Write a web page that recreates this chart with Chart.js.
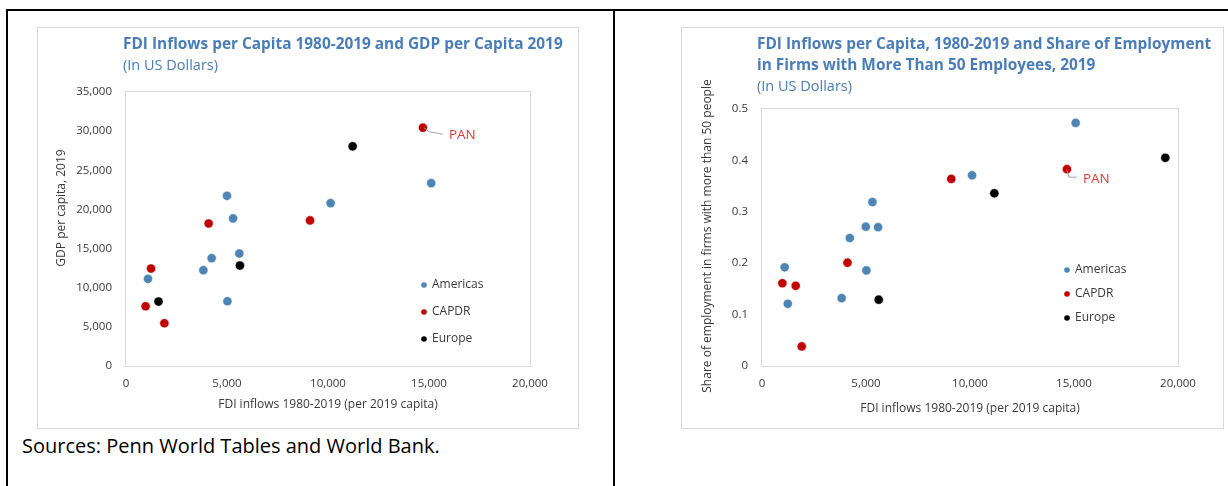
<!DOCTYPE html>
<html>
<head>
<meta charset="utf-8">
<script src="https://cdn.jsdelivr.net/npm/chart.js@4/dist/chart.umd.min.js"></script>
<style>
  html, body { margin: 0; padding: 0; background: #fff; }
  body { width: 1228px; height: 486px; position: relative; overflow: hidden; font-family: "Open Sans", sans-serif; }
  .rule { position: absolute; background: #000; }
  .box { position: absolute; border: 1px solid #d9d9d9; box-sizing: border-box; }
  canvas { position: absolute; }
  #sources { position: absolute; left: 22px; top: 434px; font-size: 20px; line-height: 24px; color: #000; white-space: nowrap; }
</style>
</head>
<body>
<div class="rule" style="left:6px;top:9px;width:1222px;height:2px"></div>
<div class="rule" style="left:6px;top:9px;width:2px;height:477px"></div>
<div class="rule" style="left:613px;top:9px;width:2px;height:477px"></div>
<div class="box" style="left:37px;top:27px;width:542px;height:402px"></div>
<div class="box" style="left:681px;top:27px;width:543px;height:402px"></div>
<canvas id="gdpChart" width="540" height="400" style="left:38px;top:28px"></canvas>
<canvas id="empChart" width="541" height="400" style="left:682px;top:28px"></canvas>
<div id="sources">Sources: Penn World Tables and World Bank.</div>

<script>
// ---- data ---------------------------------------------------------------
const GROUPS = ['Americas', 'CAPDR', 'Europe'];

const FDI_TICKS   = [0, 5000, 10000, 15000, 20000];
const GDP_TICKS   = [0, 5000, 10000, 15000, 20000, 25000, 30000, 35000];
const SHARE_TICKS = [0, 0.1, 0.2, 0.3, 0.4, 0.5];

// FDI inflows 1980-2019 per 2019 capita vs GDP per capita 2019
const americasFdiGdp = [1090, 3830, 4240, 5000, 5020, 5300, 5610, 10130, 15110];
const americasGdp    = [11130, 12240, 13770, 21740, 8270, 18850, 14370, 20800, 23360];
const capdrFdiGdp    = [970, 1240, 1900, 4090, 9110, 14700];
const capdrGdp       = [7630, 12450, 5460, 18200, 18590, 30440];
const europeFdiGdp   = [1610, 5640, 11220];
const europeGdp      = [8230, 12830, 28060];

// FDI inflows 1980-2019 per 2019 capita vs share of employment in firms > 50 people
const americasFdiEmp = [1090, 1240, 3830, 4220, 4990, 5020, 5310, 5580, 10100, 15080];
const americasShare  = [0.192, 0.121, 0.132, 0.249, 0.271, 0.186, 0.319, 0.270, 0.371, 0.473];
const capdrFdiEmp    = [980, 1620, 1910, 4110, 9100, 14660];
const capdrShare     = [0.161, 0.156, 0.038, 0.201, 0.364, 0.383];
const europeFdiEmp   = [5610, 11170, 19390];
const europeShare    = [0.129, 0.336, 0.405];

// Panama is the last CAPDR entry in both panels
const CALLOUT_LABEL = 'PAN';
const CALLOUT_GROUP = 1;
const CALLOUT_INDEX = 5;

// ---- styles -------------------------------------------------------------
const GROUP_COLORS = ['#4e85b5', '#c00000', '#000000'];
const TITLE_COLOR = '#4a7db8';
const TEXT_COLOR = '#3a3a3a';
const FONT = '"Open Sans", sans-serif';

// Plot frame, titles, axis titles, legend and the PAN callout
const panelDecor = {
  id: 'panelDecor',
  beforeDatasetsDraw(chart) {
    const { ctx, chartArea: a } = chart;
    ctx.save();
    ctx.strokeStyle = '#d9d9d9';
    ctx.lineWidth = 1;
    ctx.strokeRect(a.left - 0.5, a.top - 0.5, a.right - a.left + 1, a.bottom - a.top + 1);
    ctx.restore();
  },
  afterDraw(chart, args, o) {
    const { ctx, chartArea: a } = chart;
    ctx.save();
    ctx.textBaseline = 'middle';
    ctx.textAlign = 'left';

    // title block
    ctx.fillStyle = TITLE_COLOR;
    ctx.font = 'bold 15.4px ' + FONT;
    o.title.forEach((line, i) => ctx.fillText(line, o.titleX, o.titleY + i * 21));
    ctx.font = '14.5px ' + FONT;
    ctx.fillText(o.subtitle, o.titleX, o.titleY + o.title.length * 21);

    // axis titles
    ctx.fillStyle = TEXT_COLOR;
    ctx.font = '12px ' + FONT;
    ctx.textAlign = 'center';
    ctx.fillText(o.xTitle, (a.left + a.right) / 2, o.xTitleY);
    ctx.save();
    ctx.translate(o.yTitleX, o.yTitleY);
    ctx.rotate(-Math.PI / 2);
    ctx.fillText(o.yTitle, 0, 0);
    ctx.restore();

    // legend
    ctx.textAlign = 'left';
    chart.data.datasets.forEach((ds, i) => {
      const y = o.legendY + i * o.legendGap;
      ctx.fillStyle = ds.backgroundColor;
      ctx.beginPath();
      ctx.arc(o.legendX, y, 2.8, 0, Math.PI * 2);
      ctx.fill();
      ctx.fillStyle = TEXT_COLOR;
      ctx.font = '12px ' + FONT;
      ctx.fillText(ds.label, o.legendX + 8, y);
    });

    // callout with leader line
    const pt = chart.getDatasetMeta(CALLOUT_GROUP).data[CALLOUT_INDEX];
    ctx.strokeStyle = '#a6a6a6';
    ctx.lineWidth = 1;
    ctx.beginPath();
    o.leader.forEach(([dx, dy], i) => {
      if (i === 0) ctx.moveTo(pt.x + dx, pt.y + dy); else ctx.lineTo(pt.x + dx, pt.y + dy);
    });
    ctx.stroke();
    ctx.fillStyle = '#d93a3a';
    ctx.font = '13.5px ' + FONT;
    ctx.fillText(CALLOUT_LABEL, pt.x + o.labelDx, pt.y + o.labelDy);
    ctx.restore();
  }
};

function series(xs, ys) {
  return xs.map((v, i) => ({ x: v, y: ys[i] }));
}

function axis(min, max, ticks, fmt, fit) {
  return {
    type: 'linear',
    min, max,
    afterBuildTicks: s => { s.ticks = ticks.map(v => ({ value: v })); },
    afterFit: fit,
    grid: { display: false, drawTicks: false },
    border: { display: false },
    ticks: {
      padding: 0,
      color: TEXT_COLOR,
      font: { family: FONT, size: 11.5 },
      autoSkip: false,
      maxRotation: 0,
      callback: fmt
    }
  };
}

function makeChart(id, cfg) {
  const xAxis = axis(0, 20000, FDI_TICKS, v => v.toLocaleString('en-US'), s => { s.height = cfg.xAxisHeight; });
  xAxis.ticks.padding = 11;
  const yAxis = axis(cfg.yMin, cfg.yMax, cfg.yTicks, v => v.toLocaleString('en-US'), s => { s.width = cfg.yAxisWidth; });
  yAxis.ticks.padding = 14;
  return new Chart(document.getElementById(id), {
    type: 'scatter',
    data: {
      datasets: cfg.series.map((s, i) => ({
        label: GROUPS[i],
        data: series(s[0], s[1]),
        backgroundColor: GROUP_COLORS[i],
        borderColor: '#ffffff',
        borderWidth: 0.5,
        pointRadius: 4.6,
        pointHoverRadius: 4.6,
        order: 3 - i
      }))
    },
    options: {
      responsive: false,
      animation: false,
      devicePixelRatio: 1,
      events: [],
      layout: { padding: cfg.padding },
      plugins: {
        legend: { display: false },
        tooltip: { enabled: false },
        title: { display: false },
        panelDecor: cfg.decor
      },
      scales: { x: xAxis, y: yAxis }
    },
    plugins: [panelDecor]
  });
}

makeChart('gdpChart', {
  series: [[americasFdiGdp, americasGdp], [capdrFdiGdp, capdrGdp], [europeFdiGdp, europeGdp]],
  yMin: 0, yMax: 35000, yTicks: GDP_TICKS,
  padding: { left: 0, top: 64, right: 48, bottom: 0 },
  yAxisWidth: 88, xAxisHeight: 62,
  decor: {
    title: ['FDI Inflows per Capita 1980-2019 and GDP per Capita 2019'],
    subtitle: '(In US Dollars)',
    titleX: 85, titleY: 17,
    xTitle: 'FDI inflows 1980-2019 (per 2019 capita)', xTitleY: 377,
    yTitle: 'GDP per capita, 2019', yTitleX: 24, yTitleY: 180,
    legendX: 386, legendY: 257, legendGap: 27,
    leader: [[1, 0], [6, 4], [20, 6.5]], labelDx: 26, labelDy: 7
  }
});

makeChart('empChart', {
  series: [[americasFdiEmp, americasShare], [capdrFdiEmp, capdrShare], [europeFdiEmp, europeShare]],
  yMin: 0, yMax: 0.5, yTicks: SHARE_TICKS,
  padding: { left: 0, top: 81, right: 45, bottom: 0 },
  yAxisWidth: 80, xAxisHeight: 62,
  decor: {
    title: ['FDI Inflows per Capita, 1980-2019 and Share of Employment',
            'in Firms with More Than 50 Employees, 2019'],
    subtitle: '(In US Dollars)',
    titleX: 75, titleY: 17,
    xTitle: 'FDI inflows 1980-2019 (per 2019 capita)', xTitleY: 381,
    yTitle: 'Share of employment in firms with more than 50 people', yTitleX: 26, yTitleY: 208,
    legendX: 385, legendY: 242, legendGap: 24,
    leader: [[0, 1], [2, 8], [10, 8]], labelDx: 16, labelDy: 10
  }
});
</script>
</body>
</html>
